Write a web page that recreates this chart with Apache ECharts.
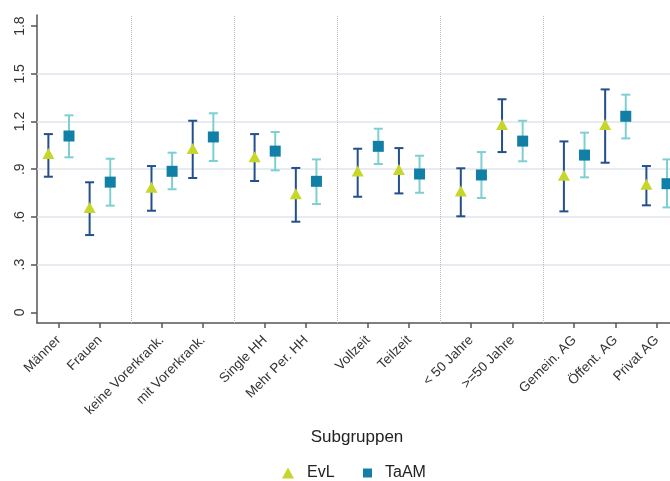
<!DOCTYPE html>
<html><head><meta charset="utf-8">
<script src="https://cdn.jsdelivr.net/npm/echarts@6/dist/echarts.min.js"></script>
<style>html,body{margin:0;padding:0;background:#fff}#c{width:670px;height:481px}</style>
</head><body><div id="c"></div>
<script>
// ---- data ----
const groups = [
  ["Männer", "Frauen"],
  ["keine Vorerkrank.", "mit Vorerkrank."],
  ["Single HH", "Mehr Per. HH"],
  ["Vollzeit", "Teilzeit"],
  ["< 50 Jahre", ">=50 Jahre"],
  ["Gemein. AG", "Öffent. AG", "Privat AG"]
];
const evlEst  = [0.999, 0.660, 0.786, 1.031, 0.979, 0.746, 0.889, 0.899, 0.763, 1.182, 0.862, 1.182, 0.805];
const evlLow  = [0.853, 0.486, 0.639, 0.845, 0.826, 0.570, 0.727, 0.748, 0.604, 1.008, 0.635, 0.941, 0.673];
const evlHigh = [1.121, 0.818, 0.920, 1.205, 1.121, 0.908, 1.029, 1.033, 0.906, 1.340, 1.075, 1.402, 0.920];
const taamEst  = [1.109, 0.819, 0.887, 1.103, 1.014, 0.824, 1.044, 0.870, 0.864, 1.077, 0.989, 1.233, 0.809];
const taamLow  = [0.975, 0.671, 0.774, 0.952, 0.893, 0.681, 0.933, 0.752, 0.719, 0.950, 0.849, 1.094, 0.660];
const taamHigh = [1.239, 0.966, 1.004, 1.252, 1.134, 0.962, 1.155, 0.985, 1.008, 1.205, 1.130, 1.369, 0.962];
const yTickValues = [0, 0.3, 0.6, 0.9, 1.2, 1.5, 1.8];
const yTickLabels = ["0", ".3", ".6", ".9", "1.2", "1.5", "1.8"];
const gridValues = [0.3, 0.6, 0.9, 1.2, 1.5];
const seriesNames = ["EvL", "TaAM"];
const xTitle = "Subgruppen";

// ---- derived layout in data units ----
const categories = [];
const positions = [];
groups.forEach((g, gi) => {
  g.forEach((name, j) => {
    categories.push(name);
    positions.push(gi + 1 - 0.2 + 0.4 * j);
  });
});
const separators = groups.slice(1).map((g, i) => i + 1.5);
const evlX = positions.map(p => p - 0.1);
const taamX = positions.map(p => p + 0.1);

const FONT = "Liberation Sans, Arial, sans-serif";
const C_EVL = "#c6d62a", C_EVL_BAR = "#234f8c";
const C_TAAM = "#127fa6", C_TAAM_BAR = "#7dd0d2";

function findLabel(values, labels, v) {
  for (let i = 0; i < values.length; i++) if (Math.abs(values[i] - v) < 1e-6) return labels[i];
  return "";
}

function errSeries(name, xs, lows, highs, color, extra) {
  return Object.assign({
    type: "custom", name: name, silent: true, z: 2,
    data: xs.map((x, i) => [x, lows[i], highs[i]]),
    encode: { x: 0, y: [1, 2] },
    renderItem(params, api) {
      const x = api.value(0);
      const lo = api.coord([x, api.value(1)]);
      const hi = api.coord([x, api.value(2)]);
      const hw = 4.5;
      const style = { stroke: color, lineWidth: 2, fill: null };
      return { type: "group", children: [
        { type: "line", shape: { x1: lo[0], y1: lo[1], x2: hi[0], y2: hi[1] }, style },
        { type: "line", shape: { x1: lo[0] - hw, y1: lo[1], x2: lo[0] + hw, y2: lo[1] }, style },
        { type: "line", shape: { x1: hi[0] - hw, y1: hi[1], x2: hi[0] + hw, y2: hi[1] }, style }
      ]};
    }
  }, extra || {});
}

const chart = echarts.init(document.getElementById("c"), null, { renderer: "canvas" });
const axisColor = "#555";
chart.setOption({
  animation: false,
  backgroundColor: "#fff",
  grid: { left: 37, right: 0, top: 15, bottom: 158, containLabel: false, outerBoundsMode: "none" },
  legend: [
    { data: [{ name: seriesNames[0], icon: "triangle" }], left: 282, top: 465, padding: 0, itemWidth: 12, itemHeight: 11,
      textStyle: { fontSize: 16, color: "#222", fontFamily: FONT, padding: [0, 0, 0, 8] } },
    { data: [{ name: seriesNames[1], icon: "rect" }], left: 363, top: 465, padding: 0, itemWidth: 9, itemHeight: 9,
      textStyle: { fontSize: 16, color: "#222", fontFamily: FONT, padding: [0, 0, 0, 8] } }
  ],
  xAxis: {
    type: "value", min: 0.5897, max: 6.729,
    axisLine: { show: true, onZero: false, lineStyle: { color: axisColor, width: 1.5 } },
    axisTick: { show: true, customValues: positions, length: 5, lineStyle: { color: axisColor, width: 1.5 } },
    axisLabel: { customValues: positions, rotate: 45, margin: 15, fontSize: 13.5, color: "#333", fontFamily: FONT,
      formatter: v => findLabel(positions, categories, v) },
    splitLine: { show: false },
    name: xTitle, nameLocation: "middle", nameGap: 106,
    nameTextStyle: { fontSize: 17, color: "#222", fontFamily: FONT, padding: [0, 0, 0, 7] }
  },
  yAxis: {
    type: "value", min: -0.067, max: 1.87,
    axisLine: { show: true, onZero: false, lineStyle: { color: axisColor, width: 1.5 } },
    axisTick: { show: true, customValues: yTickValues, length: 6, lineStyle: { color: axisColor, width: 1.5 } },
    axisLabel: { customValues: yTickValues, rotate: 90, margin: 10, fontSize: 14, color: "#333", fontFamily: FONT,
      formatter: v => findLabel(yTickValues, yTickLabels, v) },
    splitLine: { show: false }
  },
  series: [
    errSeries(seriesNames[0] + " KI", evlX, evlLow, evlHigh, C_EVL_BAR, {
      markLine: { silent: true, symbol: "none", label: { show: false }, z: 1,
        lineStyle: { color: "#e1e6ee", width: 1.5, type: "solid" },
        data: gridValues.map(v => ({ yAxis: v })) }
    }),
    errSeries(seriesNames[1] + " KI", taamX, taamLow, taamHigh, C_TAAM_BAR, {
      markLine: { silent: true, symbol: "none", label: { show: false }, z: 1,
        lineStyle: { color: "#bdbdbd", width: 1, type: "dotted" },
        data: separators.map(v => ({ xAxis: v })) }
    }),
    { type: "scatter", name: seriesNames[0], z: 5, symbol: "triangle", symbolSize: [12, 11],
      itemStyle: { color: C_EVL, opacity: 1 }, data: evlX.map((x, i) => [x, evlEst[i]]) },
    { type: "scatter", name: seriesNames[1], z: 5, symbol: "rect", symbolSize: 11,
      itemStyle: { color: C_TAAM, opacity: 1 }, data: taamX.map((x, i) => [x, taamEst[i]]) }
  ]
});
</script></body></html>
